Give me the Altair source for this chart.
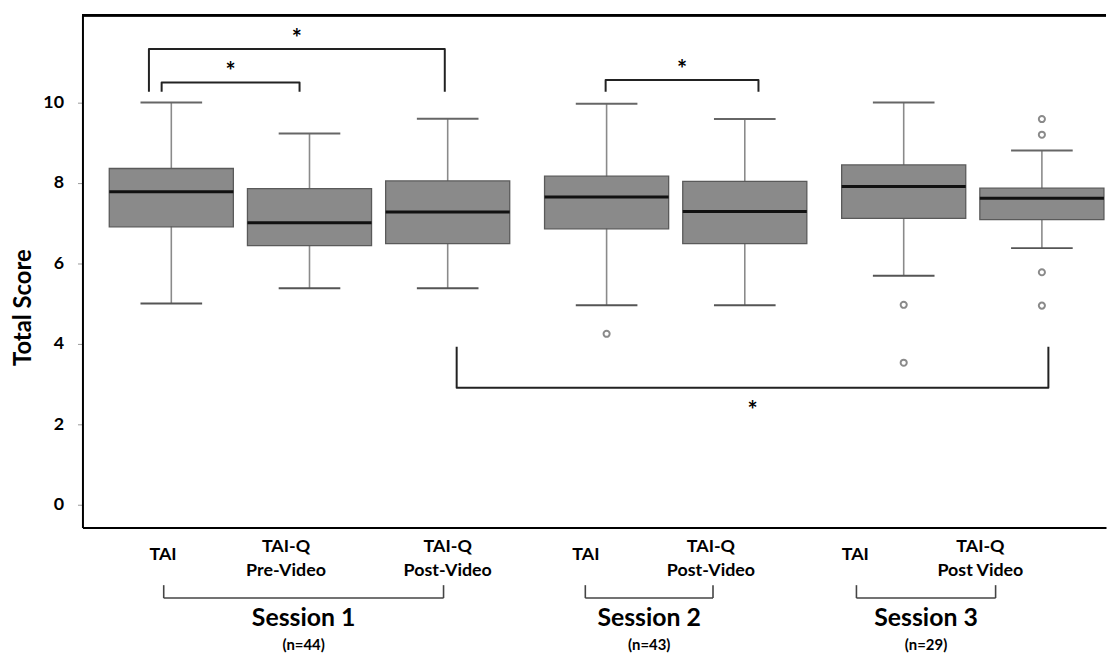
import altair as alt
import pandas as pd

# ---------------- data ----------------
box_labels = ["TAI", "TAI-Q\nPre-Video", "TAI-Q\nPost-Video", "TAI", "TAI-Q\nPost-Video", "TAI", "TAI-Q\nPost Video"]
box_session = [1, 1, 1, 2, 2, 3, 3]
lower = [5.00, 5.38, 5.38, 4.96, 4.96, 5.69, 6.38]
q1 = [6.91, 6.44, 6.49, 6.86, 6.49, 7.12, 7.09]
median = [7.78, 7.01, 7.28, 7.65, 7.29, 7.91, 7.62]
q3 = [8.36, 7.86, 8.05, 8.17, 8.04, 8.45, 7.87]
upper = [10.00, 9.23, 9.60, 9.97, 9.59, 10.00, 8.81]

outlier_box = [3, 5, 5, 6, 6, 6, 6]
outlier_val = [4.25, 4.97, 3.53, 9.59, 9.20, 5.78, 4.95]

session_titles = ["Session 1", "Session 2", "Session 3"]
session_n = ["(n=44)", "(n=43)", "(n=29)"]

# significance brackets: from box, to box
sig_from = [0, 0, 3, 2]
sig_to = [2, 1, 4, 6]
sig_text = ["*", "*", "*", "*"]

# ---------------- layout ----------------
W, H = 1031, 516
GAP = 0.15          # extra space between sessions (in box steps)
BOX_HALF = 0.449
CAP_HALF = 0.223
X_DOMAIN = [-0.643, 6.764]
Y_DOMAIN = [-0.57, 12.17]
FONT = "Lato"

pos = [i + (s - 1) * GAP for i, s in enumerate(box_session)]
label_shift = [-0.06, -0.17, 0.0, -0.15, -0.245, -0.35, -0.445]
br_shift_from = [-0.162, -0.070, -0.007, 0.065]
br_shift_to = [-0.021, -0.072, 0.099, 0.047]
br_bar = [11.33, 10.50, 10.56, 2.91]
br_leg = [10.27, 10.27, 10.27, 3.93]
br_star = [0.37, 0.39, 0.38, -0.47]
sess_bracket_pad = [(0.005, -0.03), (-0.004, 0.015), (0.008, 0.11)]

boxes = pd.DataFrame({
    "pos": pos, "lower": lower, "q1": q1, "median": median, "q3": q3, "upper": upper,
})
boxes["left"] = boxes["pos"] - BOX_HALF
boxes["right"] = boxes["pos"] + BOX_HALF
boxes["capL"] = boxes["pos"] - CAP_HALF
boxes["capR"] = boxes["pos"] + CAP_HALF

outliers = pd.DataFrame({"pos": [pos[b] for b in outlier_box], "value": outlier_val})

rows = []
stars = []
for k in range(len(sig_from)):
    x0 = pos[sig_from[k]] + br_shift_from[k]
    x1 = pos[sig_to[k]] + br_shift_to[k]
    pts = [(x0, br_leg[k]), (x0, br_bar[k]), (x1, br_bar[k]), (x1, br_leg[k])]
    for o, (px, py) in enumerate(pts):
        rows.append({"id": k, "order": o, "x": px, "y": py})
    stars.append({"x": (x0 + x1) / 2, "y": br_bar[k] + br_star[k], "t": sig_text[k]})
brackets = pd.DataFrame(rows)
stars = pd.DataFrame(stars)

label_x = [p + s for p, s in zip(pos, label_shift)]
single, line1, line2 = [], [], []
for x, lab in zip(label_x, box_labels):
    parts = lab.split("\n")
    if len(parts) == 1:
        single.append({"x": x, "t": parts[0]})
    else:
        line1.append({"x": x, "t": parts[0]})
        line2.append({"x": x, "t": parts[1]})
single, line1, line2 = pd.DataFrame(single), pd.DataFrame(line1), pd.DataFrame(line2)

sess_rows = []
for s in range(3):
    idx = [i for i, b in enumerate(box_session) if b == s + 1]
    a = label_x[idx[0]] + sess_bracket_pad[s][0]
    b = label_x[idx[-1]] + sess_bracket_pad[s][1]
    sess_rows.append({"a": a, "b": b, "mid": (a + b) / 2,
                      "title": session_titles[s], "n": session_n[s]})
sess = pd.DataFrame(sess_rows)

xs = alt.Scale(domain=X_DOMAIN, nice=False, zero=False)
ys = alt.Scale(domain=Y_DOMAIN, nice=False, zero=False)

y_axis = alt.Axis(
    values=[0, 2, 4, 6, 8, 10], grid=False, domain=True, domainColor="black",
    domainWidth=2, tickColor="#999999", tickSize=5, tickWidth=1,
    labelFont=FONT, labelFontWeight="bold", labelFontSize=18, labelColor="black",
    labelPadding=14, title="Total Score", titleFont=FONT, titleFontSize=24,
    titleFontWeight="bold", titleColor="black", titleAngle=270, titleX=-59,
    titleY=294, titleAlign="center", titleBaseline="middle",
)
x_axis = alt.Axis(labels=False, ticks=False, domain=True, domainColor="black",
                  domainWidth=2, grid=False, title=None)


def X(f):
    return alt.X(f, scale=xs, axis=x_axis, title=None)


def Y(f):
    return alt.Y(f, scale=ys, axis=y_axis, title="Total Score")


whisk = alt.Chart(boxes).mark_rule(color="#8a8a8a", strokeWidth=1.6).encode(
    x=X("pos:Q"), y=Y("lower:Q"), y2="upper:Q",
)
box = alt.Chart(boxes).mark_rect(fill="#8a8a8a", stroke="#5a5a5a", strokeWidth=1.3).encode(
    x=X("left:Q"), x2="right:Q", y=Y("q1:Q"), y2="q3:Q",
)
med = alt.Chart(boxes).mark_rule(color="#111111", strokeWidth=3).encode(
    x=X("left:Q"), x2="right:Q", y=Y("median:Q"),
)
cap_hi = alt.Chart(boxes).mark_rule(color="#666666", strokeWidth=2).encode(
    x=X("capL:Q"), x2="capR:Q", y=Y("upper:Q"),
)
cap_lo = alt.Chart(boxes).mark_rule(color="#555555", strokeWidth=2).encode(
    x=X("capL:Q"), x2="capR:Q", y=Y("lower:Q"),
)
outl = alt.Chart(outliers).mark_point(shape="circle", filled=False, color="#8a8a8a",
                                      size=38, strokeWidth=2, opacity=1).encode(
    x=X("pos:Q"), y=Y("value:Q"),
)
brk = alt.Chart(brackets).mark_line(color="#222222", strokeWidth=2, strokeJoin="round").encode(
    x=X("x:Q"), y=Y("y:Q"), order="order:O", detail="id:N",
)
star = alt.Chart(stars).mark_text(font=FONT, fontSize=24, fontWeight="bold", color="black",
                                  baseline="alphabetic", dy=13).encode(
    x=X("x:Q"), y=Y("y:Q"), text="t:N",
)
top_frame = alt.Chart(boxes).mark_rule(color="black", strokeWidth=2).encode(
    x=alt.value(0), x2=alt.value(W), y=alt.value(0)
)

txt = dict(font=FONT, fontWeight="bold", color="black", baseline="middle", align="center")
lab_single = alt.Chart(single).mark_text(fontSize=18, **txt).encode(
    x=X("x:Q"), y=alt.value(544), text="t:N")
lab_l1 = alt.Chart(line1).mark_text(fontSize=18, **txt).encode(
    x=X("x:Q"), y=alt.value(536), text="t:N")
lab_l2 = alt.Chart(line2).mark_text(fontSize=18, **txt).encode(
    x=X("x:Q"), y=alt.value(560), text="t:N")

sb_left = alt.Chart(sess).mark_rule(color="#444444", strokeWidth=1.6).encode(
    x=X("a:Q"), y=alt.value(574), y2=alt.value(587))
sb_right = alt.Chart(sess).mark_rule(color="#444444", strokeWidth=1.6).encode(
    x=X("b:Q"), y=alt.value(574), y2=alt.value(587))
sb_bar = alt.Chart(sess).mark_rule(color="#444444", strokeWidth=1.6).encode(
    x=X("a:Q"), x2="b:Q", y=alt.value(587))
s_title = alt.Chart(sess).mark_text(fontSize=25, **txt).encode(
    x=X("mid:Q"), y=alt.value(607), text="title:N")
s_n = alt.Chart(sess).mark_text(fontSize=15, **txt).encode(
    x=X("mid:Q"), y=alt.value(634), text="n:N")

chart = alt.layer(
    whisk, box, med, cap_hi, cap_lo, outl, brk, star, top_frame,
    lab_single, lab_l1, lab_l2, sb_left, sb_right, sb_bar, s_title, s_n,
).properties(
    width=W, height=H,
    autosize=alt.AutoSizeParams(type="none"),
    padding={"left": 75, "top": 5, "right": 1, "bottom": 128},
    background="white",
).configure_view(stroke=None)

chart.save("out.html", embed_options={"renderer": "svg", "actions": False})
